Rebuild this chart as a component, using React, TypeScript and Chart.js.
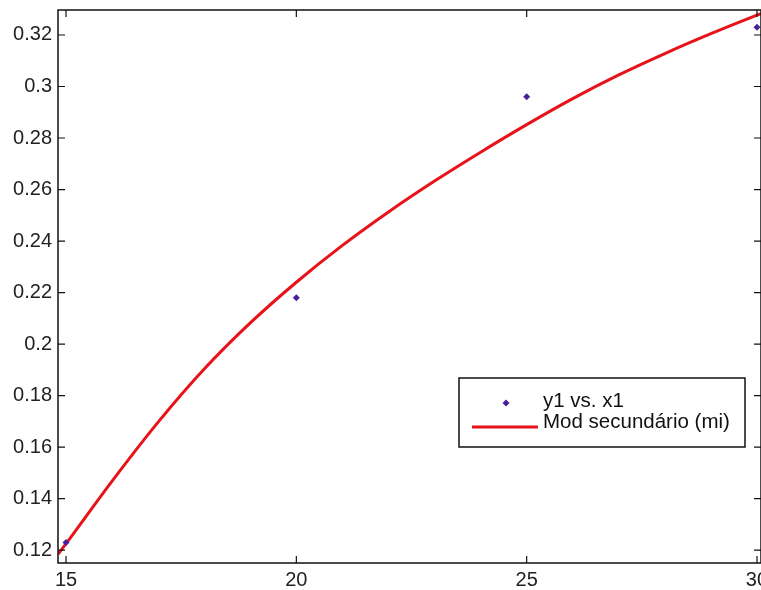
import React, { useEffect, useRef } from "react";
import { Chart, registerables } from "chart.js";

Chart.register(...registerables);

// Observed data (y1 vs. x1)
const obsX = [15, 20, 25, 30];
const obsY = [0.123, 0.218, 0.296, 0.323];

// Fitted model curve
const fitX = [14.83, 15, 16, 17, 18, 19, 20, 21, 22, 23, 24, 25, 26, 27, 28, 29, 30, 30.087];
const fitY = [0.1185, 0.1225, 0.1468, 0.1697, 0.1903, 0.2082, 0.224, 0.2383, 0.2513, 0.2633, 0.2745, 0.2852, 0.2953, 0.3045, 0.3128, 0.3205, 0.3277, 0.3283];

const xTicks = [15, 20, 25, 30];
const yTicks = [0.12, 0.14, 0.16, 0.18, 0.2, 0.22, 0.24, 0.26, 0.28, 0.3, 0.32];

const seriesLabels = ["y1 vs. x1", "Mod secundário (mi)"];

const FONT = "Liberation Sans, Arial, sans-serif";

const framePlugin = {
  id: "matlabFrame",
  afterDraw(chart: any) {
    const { ctx, chartArea } = chart;
    const { left, right, top, bottom } = chartArea;
    const xs = chart.scales.x;
    const ys = chart.scales.y;
    const tl = 7;
    ctx.save();
    ctx.strokeStyle = "#111";
    ctx.lineWidth = 1.5;
    ctx.strokeRect(left, top, right - left, bottom - top);
    ctx.lineWidth = 1.2;
    ctx.beginPath();
    xs.ticks.forEach((t: any) => {
      const px = xs.getPixelForValue(t.value);
      ctx.moveTo(px, bottom);
      ctx.lineTo(px, bottom - tl);
      ctx.moveTo(px, top);
      ctx.lineTo(px, top + tl);
    });
    ys.ticks.forEach((t: any) => {
      const py = ys.getPixelForValue(t.value);
      ctx.moveTo(left, py);
      ctx.lineTo(left + tl, py);
      ctx.moveTo(right, py);
      ctx.lineTo(right - tl, py);
    });
    ctx.stroke();

    // Legend box
    const bx = 459, by = 378, bw = 286, bh = 69;
    ctx.fillStyle = "#fff";
    ctx.fillRect(bx, by, bw, bh);
    ctx.strokeStyle = "#111";
    ctx.lineWidth = 1.5;
    ctx.strokeRect(bx, by, bw, bh);
    const ds = chart.data.datasets;
    // entry 1: marker
    ctx.fillStyle = ds[0].backgroundColor;
    ctx.beginPath();
    ctx.moveTo(506, 399.5);
    ctx.lineTo(509.5, 403);
    ctx.lineTo(506, 406.5);
    ctx.lineTo(502.5, 403);
    ctx.closePath();
    ctx.fill();
    // entry 2: line
    ctx.strokeStyle = ds[1].borderColor;
    ctx.lineWidth = 3;
    ctx.beginPath();
    ctx.moveTo(472, 427);
    ctx.lineTo(538, 427);
    ctx.stroke();
    ctx.fillStyle = "#111";
    ctx.font = `20.5px ${FONT}`;
    ctx.textBaseline = "alphabetic";
    ctx.textAlign = "left";
    ctx.fillText(ds[0].label, 543, 407);
    ctx.fillText(ds[1].label, 543, 428);
    ctx.restore();
  },
};

export default function App() {
  const ref = useRef<HTMLCanvasElement | null>(null);
  useEffect(() => {
    if (!ref.current) return;
    const chart = new Chart(ref.current, {
      type: "scatter",
      data: {
        datasets: [
          {
            label: seriesLabels[0],
            data: obsX.map((x, i) => ({ x, y: obsY[i] })),
            backgroundColor: "#4a1f9a",
            borderColor: "#4a1f9a",
            pointStyle: "rectRot",
            pointRadius: 3.5,
            pointBorderWidth: 0,
            showLine: false,
            order: 0,
          },
          {
            label: seriesLabels[1],
            data: fitX.map((x, i) => ({ x, y: fitY[i] })),
            borderColor: "#e8121a",
            backgroundColor: "#e8121a",
            borderWidth: 3,
            pointRadius: 0,
            showLine: true,
            cubicInterpolationMode: "monotone",
            order: 1,
          },
        ],
      },
      options: {
        animation: false,
        responsive: false,
        layout: { autoPadding: false, padding: { top: 10, right: 0, left: 0, bottom: 0 } },
        plugins: { legend: { display: false }, tooltip: { enabled: false } },
        scales: {
          x: {
            type: "linear",
            min: 14.826,
            max: 30.087,
            grid: { display: false, drawTicks: false },
            border: { display: false },
            afterBuildTicks: (s: any) => {
              s.ticks = xTicks.map((v) => ({ value: v }));
            },
            afterFit: (s: any) => {
              s.height = 27;
              s.paddingLeft = 0;
              s.paddingRight = 0;
            },
            ticks: {
              autoSkip: false,
              maxRotation: 0,
              padding: 5,
              color: "#222",
              font: { family: FONT, size: 20 },
              callback: (v: any) => String(v),
            },
          },
          y: {
            type: "linear",
            min: 0.115,
            max: 0.3297,
            grid: { display: false, drawTicks: false },
            border: { display: false },
            afterBuildTicks: (s: any) => {
              s.ticks = yTicks.map((v) => ({ value: v }));
            },
            afterFit: (s: any) => {
              s.width = 58;
              s.paddingTop = 0;
              s.paddingBottom = 0;
            },
            ticks: {
              autoSkip: false,
              padding: 6,
              color: "#222",
              font: { family: FONT, size: 20 },
              callback: (v: any) => String(parseFloat(Number(v).toFixed(2))),
            },
          },
        },
      },
      plugins: [framePlugin],
    } as any);
    return () => chart.destroy();
  }, []);
  return (
    <div style={{ position: "fixed", left: 0, top: 0, width: 761, height: 590, background: "#fff" }}>
      <canvas ref={ref} width={761} height={590} style={{ display: "block" }} />
    </div>
  );
}
